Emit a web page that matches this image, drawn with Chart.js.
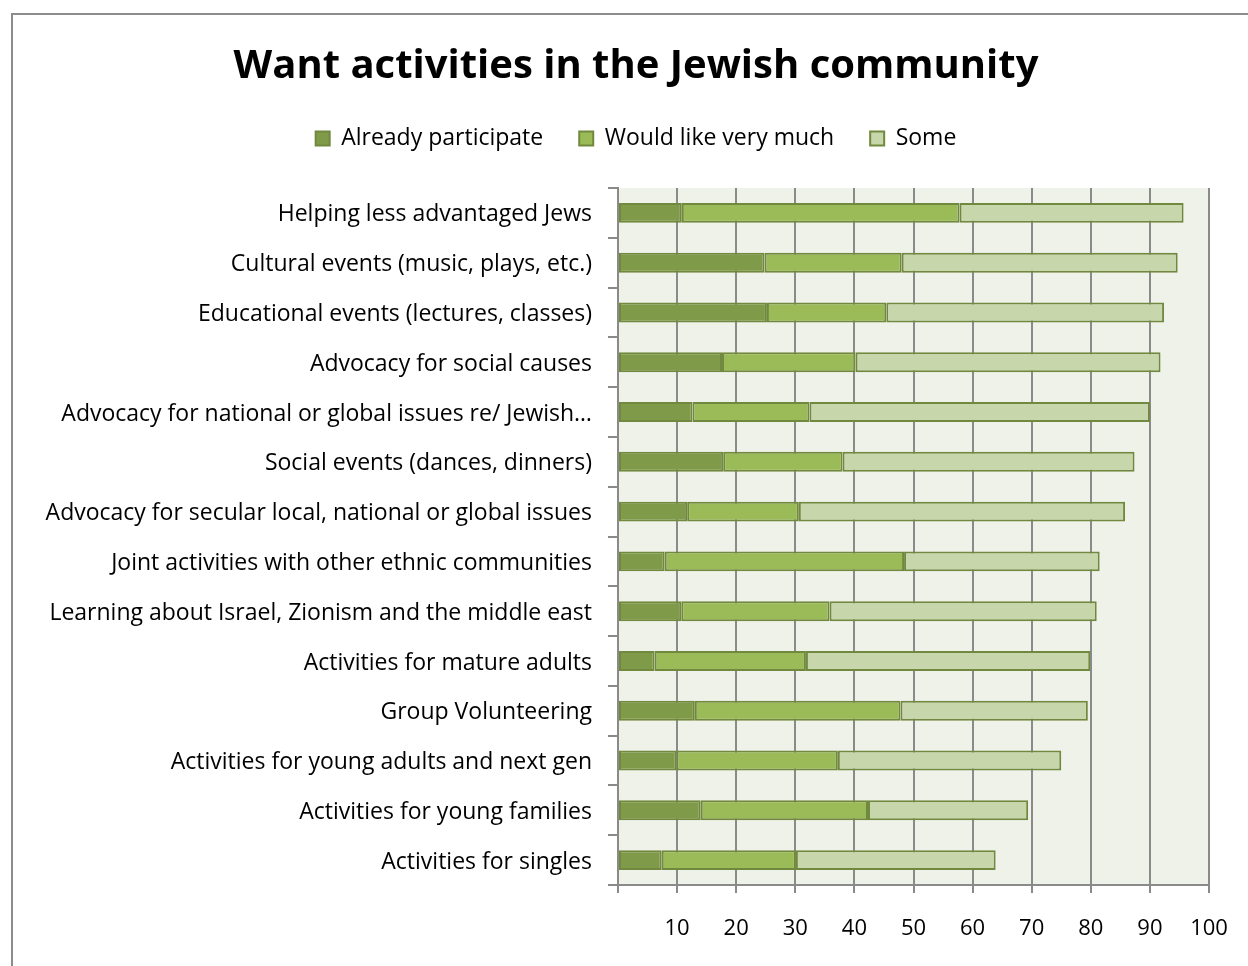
<!DOCTYPE html>
<html>
<head>
<meta charset="utf-8">
<script src="https://cdn.jsdelivr.net/npm/chart.js@4/dist/chart.umd.min.js"></script>
<style>
  html, body { margin: 0; padding: 0; background: #ffffff; }
  canvas { display: block; }
</style>
</head>
<body>
<canvas id="chart" width="1248" height="966"></canvas>
<script>
// Survey: share of respondents by interest level, per activity type
const categories = [
  'Helping less advantaged Jews',
  'Cultural events (music, plays, etc.)',
  'Educational events (lectures, classes)',
  'Advocacy for social causes',
  'Advocacy for national or global issues re/ Jewish\u2026',
  'Social events (dances, dinners)',
  'Advocacy for secular local, national or global issues',
  'Joint activities with other ethnic communities',
  'Learning about Israel, Zionism and the middle east',
  'Activities for mature adults',
  'Group Volunteering',
  'Activities for young adults and next gen',
  'Activities for young families',
  'Activities for singles'
];
const alreadyParticipate = [10.8, 24.8, 25.2, 17.6, 12.6, 17.8, 11.7, 7.9, 10.7, 6.2, 13.0, 9.9, 14.0, 7.4];
const wouldLikeVeryMuch  = [47.0, 23.2, 20.2, 22.6, 19.8, 20.2, 18.9, 40.5, 25.1, 25.6, 34.8, 27.3, 28.3, 22.7];
const some               = [37.9, 46.7, 47.0, 51.6, 57.6, 49.4, 55.2, 33.1, 45.2, 48.1, 31.7, 37.8, 27.1, 33.8];
const xTicks = [0, 10, 20, 30, 40, 50, 60, 70, 80, 90, 100];

const FONT = '"Open Sans", Lato, "DejaVu Sans", sans-serif';
const GRID = '#8a8a8a';
const EDGE = '#71893f';

// Frame around the chart and the tinted plot background
const backdrop = {
  id: 'backdrop',
  beforeDraw(chart) {
    const { ctx, chartArea: a } = chart;
    ctx.save();
    ctx.fillStyle = '#eff2e9';
    ctx.fillRect(a.left, a.top, a.right - a.left, a.bottom - a.top);
    ctx.strokeStyle = '#8c8c8c';
    ctx.lineWidth = 2;
    ctx.strokeRect(12, 14, 1400, 1200);
    ctx.restore();
  }
};

new Chart(document.getElementById('chart'), {
  type: 'bar',
  data: {
    labels: categories,
    datasets: [
      { label: 'Already participate', data: alreadyParticipate, backgroundColor: '#7f9a48', borderColor: EDGE, borderWidth: 2 },
      { label: 'Would like very much', data: wouldLikeVeryMuch, backgroundColor: '#9bbb59', borderColor: EDGE, borderWidth: 2 },
      { label: 'Some', data: some, backgroundColor: '#c8d6ac', borderColor: EDGE, borderWidth: 2 }
    ]
  },
  options: {
    indexAxis: 'y',
    responsive: false,
    devicePixelRatio: 1,
    animation: false,
    layout: { padding: { left: 24, right: 0, top: 0, bottom: 0 } },
    datasets: { bar: { categoryPercentage: 1, barPercentage: 0.4, borderSkipped: false } },
    plugins: {
      tooltip: { enabled: false },
      title: {
        display: true,
        text: 'Want activities in the Jewish community',
        color: '#000',
        font: { family: FONT, size: 40, weight: 'bold', lineHeight: 1.2 },
        padding: { top: 43, bottom: 0 }
      },
      legend: {
        display: true,
        position: 'top',
        labels: {
          color: '#000',
          font: { family: FONT, size: 23 },
          boxWidth: 14,
          boxHeight: 14,
          padding: 36
        }
      },
      subtitle: {
        display: true,
        text: ' ',
        weight: 500,
        font: { size: 10, lineHeight: 1 },
        padding: { top: 0, bottom: 18 }
      }
    },
    scales: {
      x: {
        type: 'linear',
        stacked: true,
        min: 0,
        max: 100,
        afterBuildTicks(scale) { scale.ticks = xTicks.map(v => ({ value: v })); },
        afterFit(scale) {
          scale.height = 81;
          scale.paddingLeft = 0;
          scale.paddingRight = 0;
        },
        ticks: {
          color: '#000',
          font: { family: FONT, size: 22 },
          padding: 23,
          maxRotation: 0,
          callback: v => (v === 0 ? '' : String(v))
        },
        grid: { color: GRID, lineWidth: 2, tickLength: 8, drawOnChartArea: true },
        border: { color: GRID, width: 2 }
      },
      y: {
        type: 'category',
        stacked: true,
        afterFit(scale) { scale.width = 594; },
        ticks: {
          color: '#000',
          font: { family: FONT, size: 23 },
          padding: 16,
          labelOffset: 2,
          autoSkip: false
        },
        grid: { color: GRID, lineWidth: 2, tickLength: 10, drawOnChartArea: false, offset: true },
        border: { color: GRID, width: 2 }
      },
      // empty margin on the right so the last tick label has room
      gutter: {
        type: 'linear',
        position: 'right',
        display: true,
        afterFit(scale) { scale.width = 39; },
        ticks: { display: false },
        grid: { display: false },
        border: { display: false }
      }
    }
  },
  plugins: [backdrop]
});
</script>
</body>
</html>
